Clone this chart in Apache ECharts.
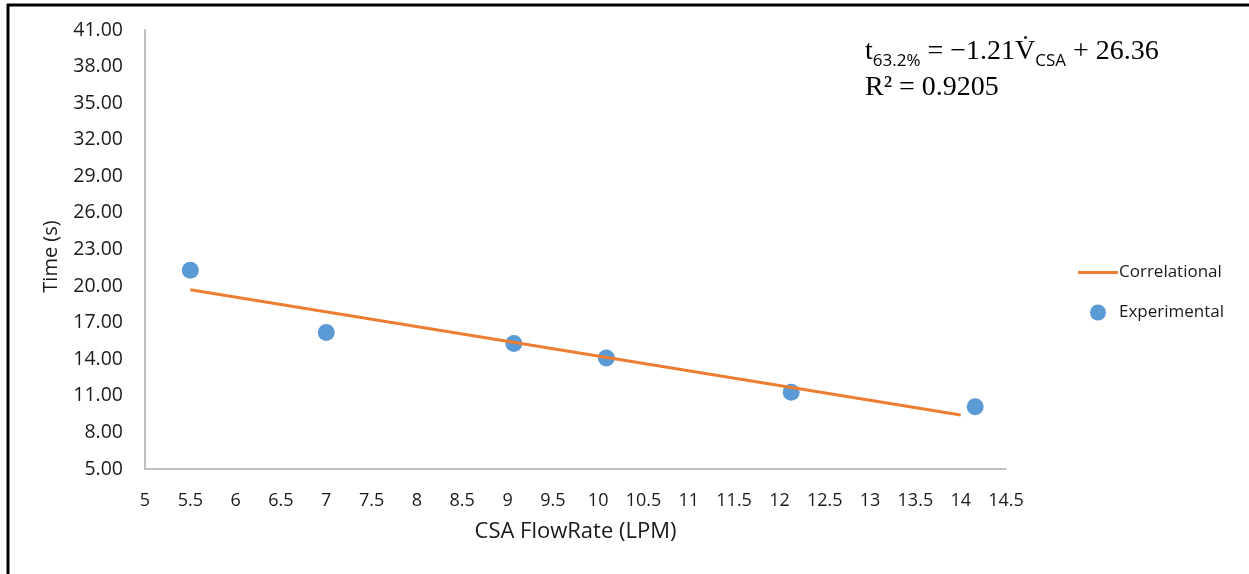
<!DOCTYPE html>
<html>
<head>
<meta charset="utf-8">
<script src="https://cdn.jsdelivr.net/npm/echarts@6/dist/echarts.min.js"></script>
<style>
html,body{margin:0;padding:0;background:#fff;}
#chart{width:1249px;height:574px;}
</style>
</head>
<body>
<div id="chart"></div>
<script>
// Experimental measurements
const expFlow = [5.5, 7.0, 9.07, 10.09, 12.13, 14.16];
const expTime = [21.3, 16.2, 15.3, 14.1, 11.3, 10.1];
// Correlational (fitted) line end points
const corrFlow = [5.5, 14.0];
const corrTime = [19.70, 9.42];
// Axis settings
const xMin = 5, xMax = 14.5, xStep = 0.5;
const yMin = 5, yMax = 41, yStep = 3;
const seriesNames = ['Correlational', 'Experimental'];

const font = '"Open Sans", "Noto Sans", sans-serif';
const chart = echarts.init(document.getElementById('chart'), null, {renderer: 'canvas'});
chart.setOption({
  animation: false,
  backgroundColor: '#fff',
  grid: {left: 145, right: 243, top: 30, bottom: 105, containLabel: false},
  xAxis: {
    type: 'value', min: xMin, max: xMax, interval: xStep,
    name: 'CSA FlowRate (LPM)', nameLocation: 'middle', nameGap: 52,
    nameTextStyle: {fontFamily: font, fontSize: 22, color: '#1a1a1a'},
    axisLine: {show: true, lineStyle: {color: '#bfbfbf', width: 2}},
    axisTick: {show: false},
    splitLine: {show: false},
    axisLabel: {fontFamily: font, fontSize: 18, color: '#1a1a1a', margin: 23,
      formatter: v => (Math.round(v*10)/10).toString()}
  },
  yAxis: {
    type: 'value', min: yMin, max: yMax, interval: yStep,
    name: 'Time (s)', nameLocation: 'middle', nameGap: 84, nameRotate: 90,
    nameTextStyle: {fontFamily: font, fontSize: 20, color: '#1a1a1a', padding: [0, 14, 0, 0]},
    axisLine: {show: true, lineStyle: {color: '#bfbfbf', width: 2}},
    axisTick: {show: false},
    splitLine: {show: false},
    axisLabel: {fontFamily: font, fontSize: 19.5, color: '#1a1a1a', margin: 22,
      formatter: v => v.toFixed(2)}
  },
  legend: {
    orient: 'vertical', left: 1073, top: 259,
    itemWidth: 40, itemHeight: 16, itemGap: 23,
    textStyle: {fontFamily: font, fontSize: 17, color: '#1a1a1a', padding: [0,0,0,-4]},
    data: [
      {name: seriesNames[0], icon: 'path://M0,0L40,0L40,3L0,3Z'},
      {name: seriesNames[1], icon: 'circle'}
    ]
  },
  series: [
    {
      name: seriesNames[0], type: 'line', symbol: 'none',
      data: corrFlow.map((x, i) => [x, corrTime[i]]),
      lineStyle: {color: '#ED7D31', width: 3}, itemStyle: {color: '#ED7D31'}
    },
    {
      name: seriesNames[1], type: 'scatter', symbolSize: 17,
      data: expFlow.map((x, i) => [x, expTime[i]]),
      itemStyle: {color: '#5B9BD5', opacity: 1}
    }
  ],
  graphic: [
    {type: 'line', shape: {x1: 7, y1: 5, x2: 1249, y2: 5}, style: {stroke: '#000', lineWidth: 3}, silent: true},
    {type: 'line', shape: {x1: 8, y1: 4, x2: 8, y2: 574}, style: {stroke: '#000', lineWidth: 3}, silent: true},
    {
      type: 'text', left: 865, top: 38, silent: true,
      style: {
        text: '{m|t}{s|63.2%}{m| = \u22121.21V\u0307}{s|CSA}{m| + 26.36}\n{m|R\u00B2 = 0.9205}',
        rich: {
          m: {fontFamily: '"Liberation Serif", "DejaVu Serif", serif', fontSize: 28, color: '#1a1a1a', lineHeight: 36, verticalAlign: 'middle'},
          s: {fontFamily: font, fontSize: 17, color: '#1a1a1a', lineHeight: 36, verticalAlign: 'bottom'}
        }
      }
    }
  ]
});
</script>
</body>
</html>
